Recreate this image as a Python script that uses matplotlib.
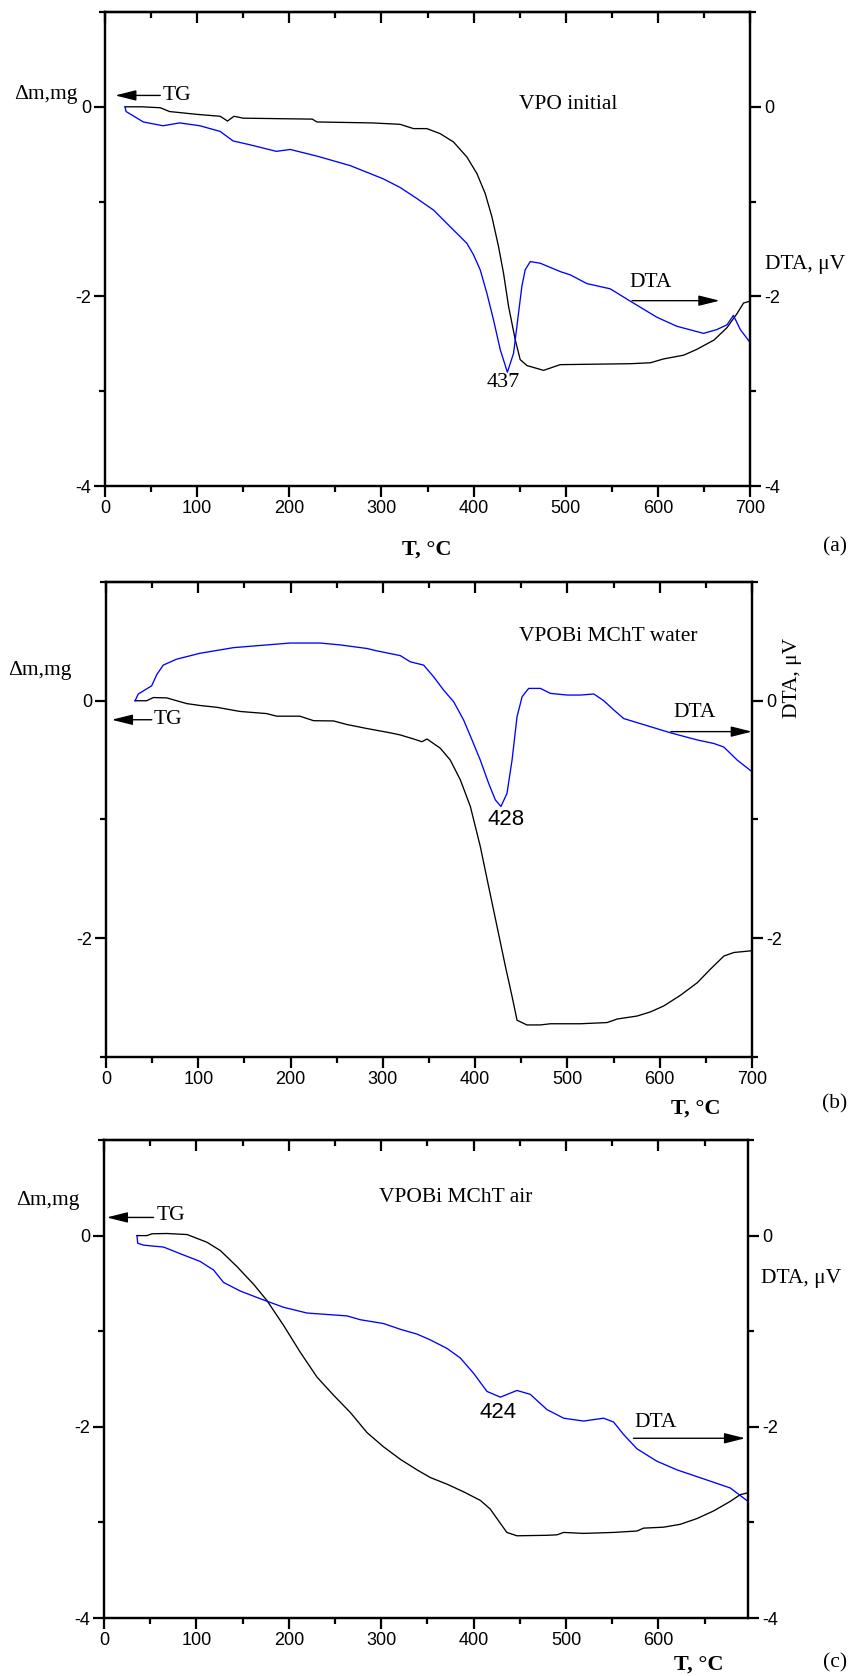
import numpy as np
import matplotlib
matplotlib.use("Agg")
import matplotlib.pyplot as plt
from matplotlib.ticker import MultipleLocator

# ---- data (T in degC, signal in mg / uV) ----
tg_a_T = [21.7, 40, 60, 70, 100, 125, 133, 140, 150, 225, 230, 290, 320.3, 334.8, 349.3, 363.7,
          378.2, 392.7, 403.6, 412.6, 419.9, 427.1, 432.5, 438, 445.2, 450.6, 458, 476, 494,
          570, 592, 606, 628, 642, 661, 675, 686, 693, 700]
tg_a_v = [0, 0, -0.01, -0.05, -0.08, -0.1, -0.15, -0.1, -0.12, -0.13, -0.16, -0.17, -0.185,
          -0.23, -0.23, -0.283, -0.371, -0.529, -0.704, -0.914, -1.16, -1.475, -1.755, -2.106,
          -2.456, -2.667, -2.73, -2.78, -2.72, -2.71, -2.70, -2.66, -2.62, -2.56, -2.46, -2.33,
          -2.18, -2.07, -2.05]
dta_a_T = [21.7, 22.9, 41.6, 63, 81, 103, 125, 139, 157, 186, 201, 230, 266, 302, 320.3, 338.4,
           356.5, 374.6, 392.7, 399.9, 407.2, 414.4, 421.6, 428.9, 436.7, 443.4, 448.8, 452.4,
           456, 461.5, 472.3, 494, 505, 523, 548.3, 570, 599, 620.6, 649.6, 664, 675, 682,
           689.5, 699.6]
dta_a_v = [0, -0.05, -0.16, -0.20, -0.17, -0.20, -0.26, -0.36, -0.40, -0.47, -0.45, -0.52, -0.62,
           -0.76, -0.851, -0.967, -1.089, -1.265, -1.44, -1.56, -1.72, -1.965, -2.246, -2.56,
           -2.80, -2.6, -2.176, -1.895, -1.72, -1.633, -1.65, -1.738, -1.773, -1.865, -1.92,
           -2.05, -2.22, -2.315, -2.39, -2.35, -2.30, -2.20, -2.35, -2.48]

tg_b_T = [31.5, 44, 51.3, 65.8, 87.5, 102, 120, 145, 174, 185, 210, 225, 246.5, 261, 282.8, 308,
          318.9, 333.3, 342.4, 347.8, 362.3, 373.1, 384, 394.8, 405.6, 414.6, 423.7, 432.8,
          440, 445.4, 456, 470.7, 481.6, 514, 543, 554, 575.5, 590, 604.4, 622.5, 640.6, 655,
          669.5, 680.3, 700]
tg_b_v = [0, 0, 0.027, 0.024, -0.024, -0.04, -0.055, -0.09, -0.108, -0.13, -0.13, -0.168, -0.17,
          -0.2, -0.234, -0.27, -0.288, -0.322, -0.345, -0.322, -0.4, -0.5, -0.667, -0.89,
          -1.228, -1.564, -1.9, -2.237, -2.49, -2.69, -2.73, -2.73, -2.72, -2.72, -2.71, -2.68,
          -2.655, -2.62, -2.57, -2.48, -2.375, -2.26, -2.15, -2.12, -2.105]
dta_b_T = [31.5, 35, 49.5, 55, 62, 76.5, 102, 138, 174, 199.6, 232, 254, 282.8, 293.6, 318.9,
           329.7, 344.2, 355, 365.8, 376.7, 387.5, 396.6, 405.6, 414.6, 421.9, 428, 434.5, 440,
           445.4, 450.9, 458, 470.7, 481.6, 499.7, 514, 528.6, 539.4, 550.3, 561, 586.4, 611.7,
           640.6, 658.7, 669.5, 684, 699.6]
dta_b_v = [0, 0.057, 0.126, 0.22, 0.30, 0.35, 0.40, 0.447, 0.47, 0.486, 0.486, 0.47, 0.44, 0.42,
           0.38, 0.328, 0.30, 0.202, 0.09, -0.008, -0.162, -0.33, -0.5, -0.695, -0.835, -0.89,
           -0.78, -0.5, -0.134, 0.034, 0.104, 0.104, 0.062, 0.048, 0.048, 0.057, 0.0, -0.078,
           -0.15, -0.21, -0.27, -0.33, -0.36, -0.39, -0.5, -0.595]

tg_c_T = [35.7, 46.5, 52, 68, 90, 111.5, 126, 144, 162, 176.4, 194.4, 212.4, 230.5, 248.5, 266.6,
          284.6, 302.6, 320.7, 338.7, 353, 371.2, 389.2, 407.3, 418, 429, 436, 446.9, 479.4,
          490.3, 497.5, 519, 551.5, 576.8, 584, 605.6, 623.7, 641.7, 659.8, 677.8, 688.6, 697]
tg_c_v = [0, 0, 0.019, 0.022, 0.011, -0.07, -0.157, -0.325, -0.51, -0.68, -0.94, -1.22, -1.48,
          -1.67, -1.85, -2.06, -2.21, -2.34, -2.45, -2.53, -2.6, -2.68, -2.77, -2.86, -3.01,
          -3.105, -3.14, -3.135, -3.13, -3.105, -3.115, -3.105, -3.09, -3.06, -3.05, -3.02,
          -2.96, -2.88, -2.78, -2.71, -2.69]
dta_c_T = [35.7, 36.5, 42.9, 64.5, 82.6, 104, 118.6, 129.4, 147.5, 169, 194.4, 219.7, 248.5, 263,
           277.4, 302.6, 320.7, 338.7, 353, 371.2, 385.6, 400, 414.5, 429, 446.9, 461.3, 479.4,
           497.5, 519, 540.7, 551.5, 562.3, 576.8, 598.4, 620, 649, 677.8, 697]
dta_c_v = [0, -0.08, -0.1, -0.12, -0.19, -0.27, -0.36, -0.49, -0.58, -0.66, -0.75, -0.81, -0.83,
           -0.84, -0.88, -0.92, -0.98, -1.03, -1.09, -1.18, -1.28, -1.44, -1.63, -1.69, -1.62,
           -1.66, -1.82, -1.91, -1.94, -1.91, -1.95, -2.08, -2.23, -2.36, -2.45, -2.545, -2.64,
           -2.78]

titles = ["VPO initial", "VPOBi MChT water", "VPOBi MChT air"]
peaks = ["437", "428", "424"]
letters = ["(a)", "(b)", "(c)"]

W, H = 858, 1676
SERIF = "Liberation Serif"
SANS = "Liberation Sans"
plt.rcParams["font.family"] = SANS
plt.rcParams["font.size"] = 13
plt.rcParams["axes.unicode_minus"] = False

fig = plt.figure(figsize=(W / 100, H / 100), dpi=100)


def px(x, y):
    return x / W, 1 - y / H


def make_axes(l, r, t, b, ylim, xmax, yticks):
    x0, y0 = px(l, b)
    x1, y1 = px(r, t)
    ax = fig.add_axes([x0, y0, x1 - x0, y1 - y0])
    ax.set_xlim(0, xmax)
    ax.set_ylim(*ylim)
    ax.xaxis.set_major_locator(MultipleLocator(100))
    ax.xaxis.set_minor_locator(MultipleLocator(50))
    ax.set_yticks(yticks)
    ax.yaxis.set_minor_locator(MultipleLocator(1))
    for s in ax.spines.values():
        s.set_linewidth(1.6)
    ax.tick_params(which="major", direction="out", length=8, width=1.6, labelsize=13, pad=2)
    ax.tick_params(which="minor", direction="out", length=4, width=1.6)
    top = ax.secondary_xaxis("top")
    top.xaxis.set_major_locator(MultipleLocator(100))
    top.xaxis.set_minor_locator(MultipleLocator(50))
    top.tick_params(which="major", direction="in", length=8, width=1.6, labeltop=False)
    top.tick_params(which="minor", direction="in", length=4, width=1.6)
    top.spines["top"].set_linewidth(1.6)
    rax = ax.twinx()
    rax.set_ylim(*ylim)
    rax.set_yticks(yticks)
    rax.yaxis.set_minor_locator(MultipleLocator(1))
    rax.tick_params(which="major", direction="out", length=8, width=1.6, labelsize=13, pad=2)
    rax.tick_params(which="minor", direction="out", length=4, width=1.6)
    for s in rax.spines.values():
        s.set_linewidth(1.6)
    return ax


def arrow(ax, tail, head):
    ax.annotate("", xy=head, xytext=tail, annotation_clip=False,
                arrowprops=dict(arrowstyle="-|>,head_length=0.8,head_width=0.2",
                                color="black", lw=1.0, mutation_scale=16,
                                shrinkA=0, shrinkB=0))


def ftext(x, y, s, **kw):
    kw.setdefault("family", SERIF)
    kw.setdefault("fontsize", 15.5)
    kw.setdefault("ha", "center")
    kw.setdefault("va", "center")
    fig.text(*px(x, y), s, **kw)


LW = 0.95

# ---------------- (a) ----------------
ax = make_axes(105, 750, 12, 486, (-4, 1), 700, [-4, -2, 0])
ax.plot(tg_a_T, tg_a_v, color="black", lw=LW)
ax.plot(dta_a_T, dta_a_v, color="#0000ff", lw=LW)
ax.text(503, 0.02, titles[0], family=SERIF, fontsize=15.5, ha="center", va="center")
ax.text(432, -2.91, peaks[0], family=SERIF, fontsize=16, ha="center", va="center")
arrow(ax, (60, 0.12), (11, 0.12))
ax.text(62, 0.12, "TG", family=SERIF, fontsize=15.5, ha="left", va="center")
arrow(ax, (572, -2.045), (667, -2.045))
ax.text(592, -1.85, "DTA", family=SERIF, fontsize=15.5, ha="center", va="center")
ftext(46, 95, "Δm,mg")
ftext(805, 265, "DTA, μV")
ftext(427, 550, "T, °C", fontweight="bold", fontsize=16)
ftext(835, 547, letters[0])

# ---------------- (b) ----------------
ax = make_axes(106, 752, 582, 1057, (-3, 1), 700, [-2, 0])
ax.plot(tg_b_T, tg_b_v, color="black", lw=LW)
ax.plot(dta_b_T, dta_b_v, color="#0000ff", lw=LW)
ax.text(544, 0.54, titles[1], family=SERIF, fontsize=15.5, ha="center", va="center")
ax.text(434, -1.0, peaks[1], family=SANS, fontsize=16, ha="center", va="center")
arrow(ax, (49.6, -0.16), (6.2, -0.16))
ax.text(52, -0.16, "TG", family=SERIF, fontsize=15.5, ha="left", va="center")
arrow(ax, (612, -0.26), (700, -0.26))
ax.text(638, -0.1, "DTA", family=SERIF, fontsize=15.5, ha="center", va="center")
ftext(40, 670, "Δm,mg")
ftext(792, 678, "DTA, μV", rotation=90)
ftext(696, 1109, "T, °C", fontweight="bold", fontsize=16)
ftext(835, 1104, letters[1])

# ---------------- (c) ----------------
ax = make_axes(104, 748, 1140, 1618, (-4, 1), 697, [-4, -2, 0])
ax.plot(tg_c_T, tg_c_v, color="black", lw=LW)
ax.plot(dta_c_T, dta_c_v, color="#0000ff", lw=LW)
ax.text(381, 0.4, titles[2], family=SERIF, fontsize=15.5, ha="center", va="center")
ax.text(427, -1.85, peaks[2], family=SANS, fontsize=16, ha="center", va="center")
arrow(ax, (53.7, 0.19), (2.9, 0.19))
ax.text(57, 0.21, "TG", family=SERIF, fontsize=15.5, ha="left", va="center")
arrow(ax, (573, -2.12), (694, -2.12))
ax.text(597, -1.95, "DTA", family=SERIF, fontsize=15.5, ha="center", va="center")
ftext(48, 1200, "Δm,mg")
ftext(801, 1278, "DTA, μV")
ftext(699, 1665, "T, °C", fontweight="bold", fontsize=16)
ftext(835, 1663, letters[2])

fig.savefig("out.png", dpi=100)
